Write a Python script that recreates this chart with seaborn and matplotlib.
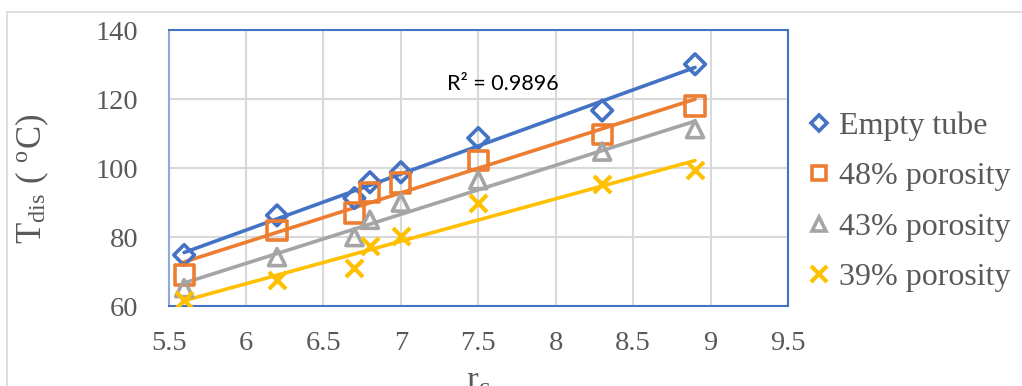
import numpy as np
import pandas as pd
import seaborn as sns
import matplotlib.pyplot as plt
from matplotlib.lines import Line2D

# Data
rc = [5.6, 6.2, 6.7, 6.8, 7.0, 7.5, 8.3, 8.9]
empty_tube = [74.8, 86.3, 91.3, 95.9, 98.8, 108.7, 116.7, 130.1]
por_48 = [69.0, 82.0, 87.0, 93.0, 95.7, 102.3, 109.8, 118.0]
por_43 = [65.2, 74.2, 80.0, 85.0, 90.0, 96.5, 104.8, 111.3]
por_39 = [61.7, 67.5, 71.0, 77.4, 80.3, 90.0, 95.4, 99.4]

series_names = ['Empty tube', '48% porosity', '43% porosity', '39% porosity']
series_vals = [empty_tube, por_48, por_43, por_39]
colors = ['#4472C4', '#ED7D31', '#A5A5A5', '#FFC000']
markers = ['D', 's', '^', 'x']
sizes = [110, 190, 150, 150]

x_ticks = [5.5, 6, 6.5, 7, 7.5, 8, 8.5, 9, 9.5]
x_tick_labels = ['5.5', '6', '6.5', '7', '7.5', '8', '8.5', '9', '9.5']
y_ticks = [60, 80, 100, 120, 140]
r2_text = 'R\u00b2 = 0.9896'

df = pd.DataFrame({
    'rc': rc * len(series_names),
    'T': sum(series_vals, []),
    'series': [s for s in series_names for _ in rc],
})

sns.set_style('white')
plt.rcParams['font.family'] = ['Liberation Serif', 'DejaVu Serif']
plt.rcParams['mathtext.fontset'] = 'stix'

fig = plt.figure(figsize=(10.22, 3.86), dpi=100)
ax = fig.add_axes([0.165, 0.207, 0.606, 0.715])

text_col = '#595959'

for name, col, mk, sz in zip(series_names, colors, markers, sizes):
    sub = df[df['series'] == name]
    sns.regplot(data=sub, x='rc', y='T', scatter=False, ci=None, truncate=True,
                color=col, line_kws={'lw': 2.6, 'zorder': 2}, ax=ax)
    if mk == 'x':
        sns.scatterplot(data=sub, x='rc', y='T', marker=mk, s=sz, color=col,
                        linewidth=3, ax=ax, zorder=3)
    else:
        sns.scatterplot(data=sub, x='rc', y='T', marker=mk, s=sz, facecolor='none',
                        edgecolor=col, linewidth=2.6, ax=ax, zorder=3)

ax.set_xlim(5.5, 9.5)
ax.set_ylim(60, 140)
ax.set_xticks(x_ticks)
ax.set_xticklabels(x_tick_labels)
ax.set_yticks(y_ticks)
ax.tick_params(axis='both', length=0, labelsize=20.5, labelcolor=text_col)
ax.tick_params(axis='y', pad=22)
ax.tick_params(axis='x', pad=18)
ax.grid(True, color='#D9D9D9', lw=1.5)
ax.set_axisbelow(True)
for side, sp in ax.spines.items():
    sp.set_visible(True)
    sp.set_color('#4472C4')
    sp.set_linewidth(1.5)
ax.spines['left'].set_color('#8EA9DB')

ax.set_ylabel(r'T$_{\mathregular{dis}}$ ( $^{\mathregular{o}}$C)', fontsize=25, color=text_col)
ax.yaxis.set_label_coords(-0.19, 0.46)
ax.set_xlabel(r'r$_{\mathregular{c}}$', fontsize=25, color=text_col, va='baseline')
ax.xaxis.set_label_coords(0.5, -0.305)

ax.text(7.3, 124.3, r2_text, fontsize=15.5, color='black', family=['Lato', 'DejaVu Sans'],
        va='center', ha='left')

handles = []
for name, col, mk in zip(series_names, colors, markers):
    if mk == 'x':
        h = Line2D([], [], ls='none', marker=mk, color=col, ms=11, mew=3)
    else:
        h = Line2D([], [], ls='none', marker=mk, mfc='none', mec=col, ms=10 if mk != 'D' else 8,
                   mew=2.6)
    handles.append(h)
leg = fig.legend(handles, series_names, loc='center left', bbox_to_anchor=(0.762, 0.477),
                 frameon=False, fontsize=23, handlelength=0.7, handletextpad=0.3,
                 labelspacing=0.66, labelcolor=text_col)

# chart-area border like the spreadsheet frame
fig.add_artist(Line2D([0.007, 0.007], [0, 0.969], color='#D9D9D9', lw=1.2))
fig.add_artist(Line2D([0.007, 1.0], [0.969, 0.969], color='#D9D9D9', lw=1.2))

fig.savefig('out.png', dpi=100)
